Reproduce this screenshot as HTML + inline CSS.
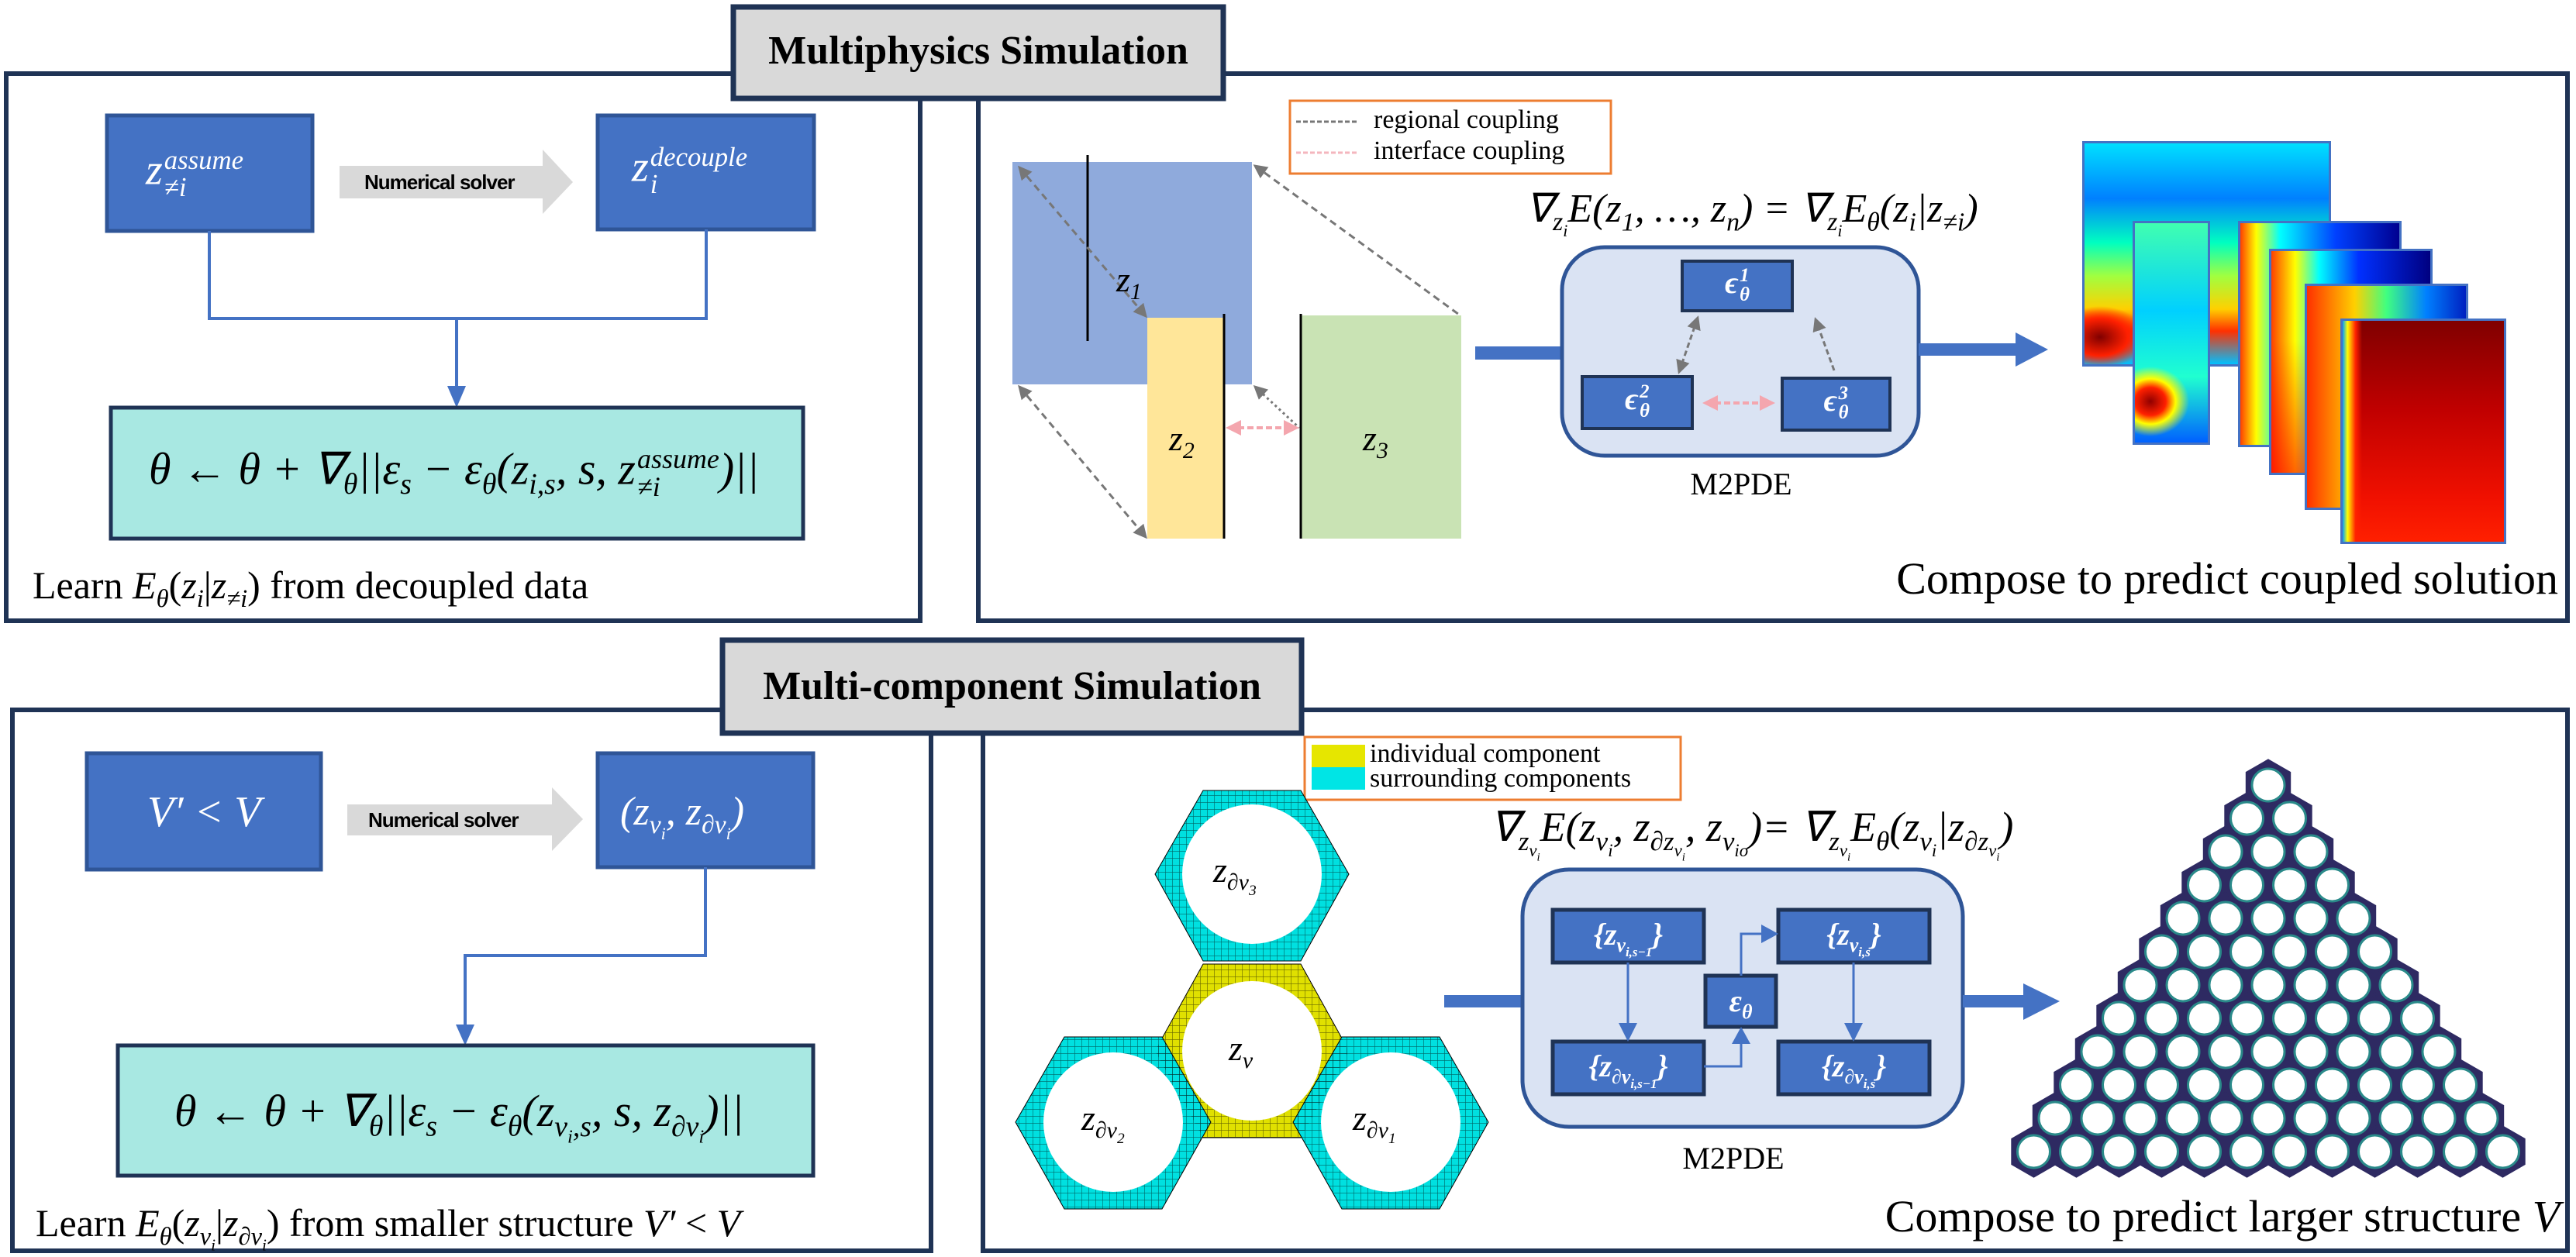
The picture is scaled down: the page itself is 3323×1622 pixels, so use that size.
<!DOCTYPE html>
<html><head><meta charset="utf-8"><style>
body{margin:0;width:3323px;height:1622px;position:relative;background:#fff;overflow:hidden;font-family:"Liberation Serif",serif;}
.t{position:absolute;white-space:nowrap;line-height:1;}
.i{font-style:italic}
.w{color:#fff}
sub,sup{font-size:65%;line-height:0}
.ss{display:inline-block;vertical-align:middle;line-height:1;font-size:62%;text-align:left;margin-left:2px}
.ss>span{display:block}
.hm{position:absolute;border:3px solid #4472c4;box-sizing:border-box}
</style></head><body>
<svg width="3323" height="1622" style="position:absolute;left:0;top:0">
<defs>
<pattern id="mesh" width="9" height="9" patternUnits="userSpaceOnUse"><path d="M0 0H9M0 0V9" stroke="#000" stroke-width="1.2" opacity="0.55"/></pattern>
<marker id="ag" markerWidth="6" markerHeight="6" refX="5" refY="3" orient="auto-start-reverse" markerUnits="strokeWidth"><path d="M0 0L6 3L0 6z" fill="#777"/></marker>
<marker id="ap" markerWidth="5" markerHeight="5" refX="4" refY="2.5" orient="auto-start-reverse" markerUnits="strokeWidth"><path d="M0 0L5 2.5L0 5z" fill="#f4a6ae"/></marker>
</defs>
<g fill="none" stroke="#1f3355" stroke-width="6">
<rect x="8" y="95" width="1179" height="706"/>
<rect x="1262" y="95" width="2050" height="706"/>
<rect x="16" y="916" width="1185" height="698"/>
<rect x="1268" y="916" width="2044" height="698"/>
</g>
<rect x="946" y="9" width="632" height="118" fill="#d9d9d9" stroke="#1f3355" stroke-width="7"/>
<rect x="932" y="826" width="747" height="120" fill="#d9d9d9" stroke="#1f3355" stroke-width="7"/>
<rect x="138" y="149" width="265" height="149" fill="#4472c4" stroke="#2f5597" stroke-width="5"/>
<rect x="771" y="149" width="279" height="147" fill="#4472c4" stroke="#2f5597" stroke-width="5"/>
<path d="M438 214H700V193L739 235L700 276V256H438z" fill="#d9d9d9"/>
<path d="M270 298V411H911V296M589 411V520" fill="none" stroke="#4472c4" stroke-width="4"/>
<path d="M577 498L601 498L589 526z" fill="#4472c4"/>
<rect x="143" y="526" width="893" height="169" fill="#a8e8e2" stroke="#1f3355" stroke-width="5"/>
<rect x="112" y="972" width="302" height="150" fill="#4472c4" stroke="#2f5597" stroke-width="5"/>
<rect x="771" y="972" width="278" height="147" fill="#4472c4" stroke="#2f5597" stroke-width="5"/>
<path d="M448 1038H712V1016L752 1057L712 1098V1078H448z" fill="#d9d9d9"/>
<path d="M910 1119V1233H600V1330" fill="none" stroke="#4472c4" stroke-width="4"/>
<path d="M588 1322L612 1322L600 1349z" fill="#4472c4"/>
<rect x="152" y="1349" width="897" height="168" fill="#a8e8e2" stroke="#1f3355" stroke-width="5"/>
<rect x="1306" y="209" width="309" height="287" fill="#8faadc"/>
<rect x="1480" y="410" width="99" height="285" fill="#ffe699"/>
<rect x="1678" y="407" width="207" height="288" fill="#c9e3b4"/>
<path d="M1403 200V440M1579 405V695M1678 405V695" stroke="#000" stroke-width="3"/>
<g stroke="#777" stroke-width="3" stroke-dasharray="9 6" fill="none">
<path d="M1315 216L1478 408" marker-start="url(#ag)" marker-end="url(#ag)"/>
<path d="M1619 214L1885 408" marker-start="url(#ag)"/>
<path d="M1315 499L1478 693" marker-start="url(#ag)" marker-end="url(#ag)"/>
<path d="M1619 499L1676 552" marker-start="url(#ag)" stroke-dasharray="3 4"/>
</g>
<path d="M1585 552H1672" stroke="#f4a6ae" stroke-width="4" stroke-dasharray="8 4" marker-start="url(#ap)" marker-end="url(#ap)"/>
<rect x="1664" y="130" width="414" height="94" fill="#fff" stroke="#ed7d31" stroke-width="3"/>
<path d="M1672 157H1752" stroke="#777" stroke-width="3" stroke-dasharray="6 3"/>
<path d="M1672 197H1752" stroke="#f4b6be" stroke-width="3" stroke-dasharray="6 3"/>
<rect x="1903" y="447" width="120" height="17" fill="#4472c4"/>
<rect x="2015" y="319" width="460" height="269" rx="55" fill="#dae3f3" stroke="#2f5597" stroke-width="5"/>
<path d="M2475 443H2600V429L2642 451L2600 473V459H2475z" fill="#4472c4"/>
<rect x="2170" y="337" width="142" height="64" fill="#4472c4" stroke="#1f3355" stroke-width="4"/>
<rect x="2041" y="486" width="142" height="67" fill="#4472c4" stroke="#1f3355" stroke-width="4"/>
<rect x="2299" y="488" width="139" height="67" fill="#4472c4" stroke="#1f3355" stroke-width="4"/>
<g stroke="#777" stroke-width="3" stroke-dasharray="7 4" fill="none">
<path d="M2166 480L2190 410" marker-start="url(#ag)" marker-end="url(#ag)"/>
<path d="M2366 478L2342 412" marker-end="url(#ag)"/>
</g>
<path d="M2200 520H2286" stroke="#f4a6ae" stroke-width="4" stroke-dasharray="8 4" marker-start="url(#ap)" marker-end="url(#ap)"/>
<rect x="1683" y="951" width="485" height="81" fill="#fff" stroke="#ed7d31" stroke-width="3"/>
<rect x="1692" y="961" width="69" height="29" fill="#e6e600"/>
<rect x="1692" y="990" width="69" height="29" fill="#00e5e5"/>
<g stroke="#000" stroke-width="1">
<polygon points="1490,1128 1552,1020 1678,1020 1740,1128 1678,1240 1552,1240" fill="#00e0e0"/>
<polygon points="1490,1356 1552,1244 1678,1244 1740,1356 1678,1468 1552,1468" fill="#e0e000"/>
<polygon points="1310,1448 1373,1338 1499,1338 1562,1448 1499,1560 1373,1560" fill="#00e0e0"/>
<polygon points="1668,1448 1731,1338 1857,1338 1920,1448 1857,1560 1731,1560" fill="#00e0e0"/>
</g>
<g fill="url(#mesh)">
<polygon points="1490,1128 1552,1020 1678,1020 1740,1128 1678,1240 1552,1240"/>
<polygon points="1490,1356 1552,1244 1678,1244 1740,1356 1678,1468 1552,1468"/>
<polygon points="1310,1448 1373,1338 1499,1338 1562,1448 1499,1560 1373,1560"/>
<polygon points="1668,1448 1731,1338 1857,1338 1920,1448 1857,1560 1731,1560"/>
</g>
<g fill="#fff">
<circle cx="1615" cy="1128" r="90"/><circle cx="1615" cy="1356" r="90"/>
<circle cx="1436" cy="1448" r="90"/><circle cx="1794" cy="1448" r="90"/>
</g>
<rect x="1863" y="1284" width="103" height="16" fill="#4472c4"/>
<rect x="1964" y="1122" width="568" height="332" rx="60" fill="#dae3f3" stroke="#2f5597" stroke-width="5"/>
<path d="M2532 1284H2610V1269L2657 1292L2610 1316V1300H2532z" fill="#4472c4"/>
<g fill="#4472c4" stroke="#1f3355" stroke-width="5">
<rect x="2003" y="1174" width="195" height="68"/><rect x="2294" y="1174" width="195" height="68"/>
<rect x="2003" y="1344" width="195" height="68"/><rect x="2294" y="1344" width="195" height="68"/>
<rect x="2200" y="1259" width="91" height="66"/>
</g>
<g stroke="#4472c4" stroke-width="3" fill="none">
<path d="M2100 1242V1322"/><path d="M2391 1242V1322"/>
<path d="M2198 1376H2246V1345"/><path d="M2246 1259V1205H2272"/>
</g>
<g fill="#4472c4">
<path d="M2088 1320H2112L2100 1344z"/><path d="M2379 1320H2403L2391 1344z"/>
<path d="M2234 1347H2258L2246 1325z"/><path d="M2272 1193V1217L2294 1205z"/>
</g>
</svg>
<svg width="3323" height="1622" style="position:absolute;left:0;top:0" id="holes"></svg>
<script>
(function(){var s=document.getElementById('holes'),a='',b='';var n=12,d=55,rh=43,ax=2926,ay=1013,R=32;
for(var r=0;r<n;r++){for(var k=0;k<=r;k++){var x=ax-r*d/2+k*d,y=ay+r*rh;var p=[];for(var j=0;j<6;j++){var an=Math.PI/180*(60*j-90);p.push((x+R*Math.cos(an)).toFixed(1)+','+(y+R*Math.sin(an)).toFixed(1));}
a+='<polygon points="'+p.join(' ')+'" fill="#2e2a62" stroke="#2e2a62" stroke-width="3"/>';
b+='<circle cx="'+x.toFixed(1)+'" cy="'+y+'" r="21" fill="#fff" stroke="#2a8a8a" stroke-width="3"/>';}}
s.innerHTML=a+b;})();
</script>
<div class="hm" style="left:2686px;top:182px;width:321px;height:291px;background:radial-gradient(ellipse 60px 40px at 20px 250px,#800000,#ff2000 60%,transparent 100%),linear-gradient(to bottom,#00e0ff 0%,#0080ff 25%,#00ffc0 45%,#a0ff40 60%,#ffd000 75%,#ff3000 85%,#00c0ff 100%)"></div>
<div class="hm" style="left:2751px;top:285px;width:100px;height:289px;background:radial-gradient(ellipse 50px 45px at 20px 230px,#900000,#ff2000 40%,#ffff00 65%,transparent 100%),linear-gradient(to bottom,#40ffb0,#00d0ff 40%,#20ffd0 70%,#0060ff)"></div>
<div class="hm" style="left:2887px;top:285px;width:211px;height:292px;background:linear-gradient(to right,#ff4000,#ffff00 10%,#00ffff 25%,#0040ff 60%,#000090)"></div>
<div class="hm" style="left:2927px;top:321px;width:211px;height:292px;background:linear-gradient(to bottom,transparent 40%,rgba(255,0,0,.6)),linear-gradient(to right,#ff4000,#ffff00 15%,#00ffff 30%,#0030ff 55%,#000080)"></div>
<div class="hm" style="left:2973px;top:366px;width:211px;height:292px;background:linear-gradient(to right,#ff3000,#ffd000 30%,#40ff80 50%,#0080ff 75%,#0020c0)"></div>
<div class="hm" style="left:3019px;top:411px;width:214px;height:291px;background:linear-gradient(to right,#00a0ff 0%,#ffff00 3%,#ff2000 8%,transparent 12%),linear-gradient(to bottom,#800000,#c00000 40%,#f01000 80%,#ff2000)"></div>

<div class="t" style="left:946px;top:40px;width:632px;text-align:center;font-size:52px;font-weight:bold">Multiphysics Simulation</div>
<div class="t" style="left:932px;top:860px;width:747px;text-align:center;font-size:52px;font-weight:bold">Multi-component Simulation</div>
<div class="t i w" style="left:188px;top:190px;font-size:56px">z<span class="ss"><span>assume</span><span>≠i</span></span></div>
<div class="t i w" style="left:815px;top:186px;font-size:56px">z<span class="ss"><span>decouple</span><span>i</span></span></div>
<div class="t" style="left:470px;top:222px;font-size:26px;font-weight:bold;font-family:'Liberation Sans',sans-serif;letter-spacing:-1px">Numerical solver</div>
<div class="t" style="left:475px;top:1045px;font-size:26px;font-weight:bold;font-family:'Liberation Sans',sans-serif;letter-spacing:-1px">Numerical solver</div>
<div class="t i" style="left:192px;top:575px;font-size:58px">θ ← θ + ∇<sub>θ</sub>||ε<sub>s</sub> − ε<sub>θ</sub>(z<sub>i,s</sub>, s, z<span class="ss"><span>assume</span><span>≠i</span></span>)||</div>
<div class="t" style="left:42px;top:730px;font-size:50px">Learn <i>E<sub>θ</sub></i>(<i>z<sub>i</sub></i>|<i>z<sub>≠i</sub></i>) from decoupled data</div>
<div class="t i w" style="left:190px;top:1020px;font-size:56px">V′ &lt; V</div>
<div class="t i w" style="left:800px;top:1022px;font-size:52px">(z<sub>v<sub>i</sub></sub>, z<sub>∂v<sub>i</sub></sub>)</div>
<div class="t i" style="left:225px;top:1405px;font-size:58px">θ ← θ + ∇<sub>θ</sub>||ε<sub>s</sub> − ε<sub>θ</sub>(z<sub>v<sub>i</sub>,s</sub>, s, z<sub>∂v<sub>i</sub></sub>)||</div>
<div class="t" style="left:46px;top:1553px;font-size:50px">Learn <i>E<sub>θ</sub></i>(<i>z<sub>v<sub>i</sub></sub></i>|<i>z<sub>∂v<sub>i</sub></sub></i>) from smaller structure <i>V′</i> &lt; <i>V</i></div>

<div class="t i" style="left:1440px;top:338px;font-size:46px">z<sub>1</sub></div>
<div class="t i" style="left:1508px;top:543px;font-size:46px">z<sub>2</sub></div>
<div class="t i" style="left:1758px;top:543px;font-size:46px">z<sub>3</sub></div>
<div class="t" style="left:1772px;top:138px;font-size:34px">regional coupling</div>
<div class="t" style="left:1772px;top:178px;font-size:34px">interface coupling</div>
<div class="t i" style="left:1930px;top:244px;width:660px;text-align:center;font-size:52px">∇<sub>z<sub>i</sub></sub>E(z<sub>1</sub>, …, z<sub>n</sub>) = ∇<sub>z<sub>i</sub></sub>E<sub>θ</sub>(z<sub>i</sub>|z<sub>≠i</sub>)</div>
<div class="t i w" style="left:2170px;top:344px;width:142px;text-align:center;font-size:40px;font-weight:bold">ϵ<span class="ss"><span>1</span><span>θ</span></span></div>
<div class="t i w" style="left:2041px;top:494px;width:142px;text-align:center;font-size:40px;font-weight:bold">ϵ<span class="ss"><span>2</span><span>θ</span></span></div>
<div class="t i w" style="left:2299px;top:496px;width:139px;text-align:center;font-size:40px;font-weight:bold">ϵ<span class="ss"><span>3</span><span>θ</span></span></div>
<div class="t" style="left:2146px;top:605px;width:200px;text-align:center;font-size:40px">M2PDE</div>
<div class="t" style="left:2400px;top:718px;width:900px;text-align:right;font-size:58px">Compose to predict coupled solution</div>

<div class="t" style="left:1767px;top:956px;font-size:34px">individual component</div>
<div class="t" style="left:1767px;top:988px;font-size:34px">surrounding components</div>
<div class="t i" style="left:1830px;top:1040px;width:860px;text-align:center;font-size:54px">∇<sub>z<sub>v<sub>i</sub></sub></sub>E(z<sub>v<sub>i</sub></sub>, z<sub>∂z<sub>v<sub>i</sub></sub></sub>, z<sub>v<sub>io</sub></sub>)= ∇<sub>z<sub>v<sub>i</sub></sub></sub>E<sub>θ</sub>(z<sub>v<sub>i</sub></sub>|z<sub>∂z<sub>v<sub>i</sub></sub></sub>)</div>
<div class="t i w" style="left:2003px;top:1186px;width:195px;text-align:center;font-size:40px;font-weight:bold">{z<sub>v<sub>i,s−1</sub></sub>}</div>
<div class="t i w" style="left:2294px;top:1186px;width:195px;text-align:center;font-size:40px;font-weight:bold">{z<sub>v<sub>i,s</sub></sub>}</div>
<div class="t i w" style="left:2003px;top:1356px;width:195px;text-align:center;font-size:40px;font-weight:bold">{z<sub>∂v<sub>i,s−1</sub></sub>}</div>
<div class="t i w" style="left:2294px;top:1356px;width:195px;text-align:center;font-size:40px;font-weight:bold">{z<sub>∂v<sub>i,s</sub></sub>}</div>
<div class="t i w" style="left:2200px;top:1272px;width:91px;text-align:center;font-size:40px;font-weight:bold">ε<sub>θ</sub></div>
<div class="t" style="left:2136px;top:1475px;width:200px;text-align:center;font-size:40px">M2PDE</div>
<div class="t i" style="left:1565px;top:1100px;font-size:46px">z<sub>∂v<sub>3</sub></sub></div>
<div class="t i" style="left:1585px;top:1330px;font-size:46px">z<sub>v</sub></div>
<div class="t i" style="left:1395px;top:1420px;font-size:46px">z<sub>∂v<sub>2</sub></sub></div>
<div class="t i" style="left:1745px;top:1420px;font-size:46px">z<sub>∂v<sub>1</sub></sub></div>
<div class="t" style="left:2400px;top:1541px;width:902px;text-align:right;font-size:58px">Compose to predict larger structure <i>V</i></div>
</body></html>
